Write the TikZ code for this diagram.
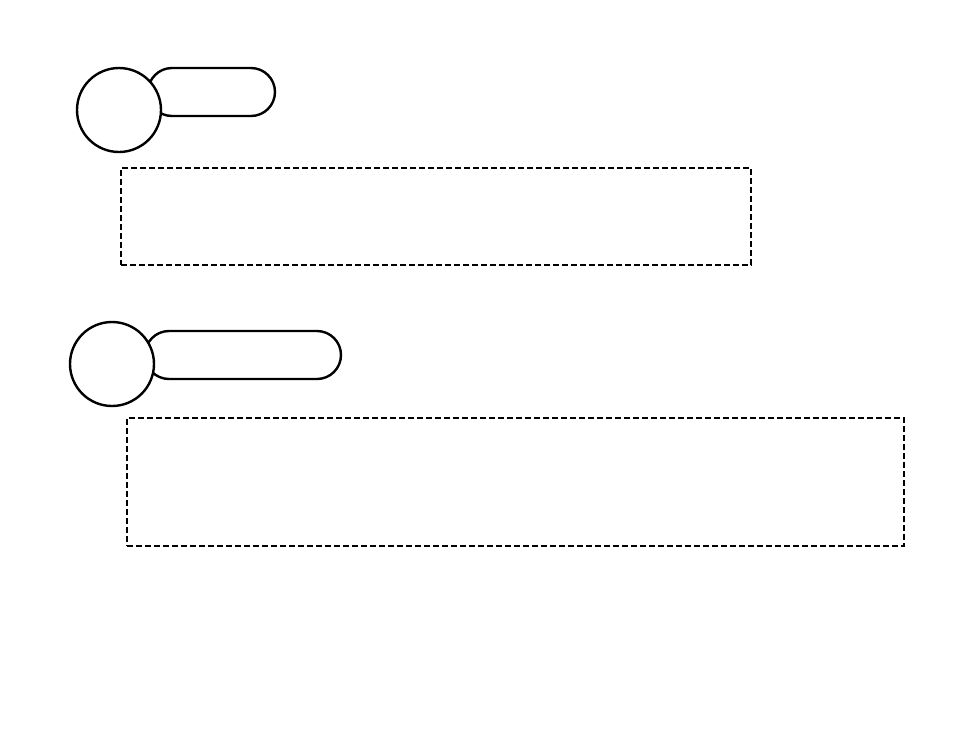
\documentclass[tikz,border=0pt]{standalone}
\usepackage{tikz}

\begin{document}
\begin{tikzpicture}[x=1pt,y=-1pt,
	pill/.style={draw,line width=2.4pt,rounded corners=24pt,minimum height=48pt,inner sep=0pt},
	badge/.style={draw,circle,line width=2.4pt,fill=white,minimum size=84pt,inner sep=0pt},
	slot/.style={draw,line width=2.6pt,dash pattern=on 6pt off 3pt,inner sep=0pt}]
	\useasboundingbox (0,0) rectangle (954,737);

	\node [pill,minimum width=127pt] (title1) at (211.5,92) {};
	\node [badge] (num1) at (119,110) {};
	\node [slot,minimum width=630pt,minimum height=97pt] (body1) at (436,216.5) {};

	\node [pill,minimum width=196pt] (title2) at (243,355) {};
	\node [badge] (num2) at (112,364) {};
	\node [slot,minimum width=777pt,minimum height=128pt] (body2) at (515.5,482) {};

\end{tikzpicture}
\end{document}
